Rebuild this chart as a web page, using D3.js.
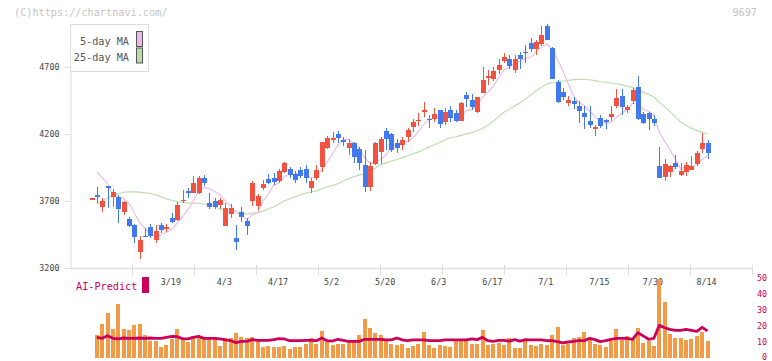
<!DOCTYPE html>
<html><head><meta charset="utf-8">
<script src="https://cdn.jsdelivr.net/npm/d3@7"></script>
<style>body{margin:0;background:#fff}svg{display:block}</style>
</head><body>
<svg id="c" width="772" height="361"></svg>
<script>
const dates = ["2/26","2/27","2/28","3/3","3/4","3/5","3/6","3/7","3/10","3/11","3/12","3/13","3/14","3/17","3/18","3/19","3/21","3/24","3/25","3/26","3/27","3/28","3/31","4/1","4/2","4/3","4/4","4/7","4/8","4/9","4/10","4/11","4/14","4/15","4/16","4/17","4/18","4/21","4/22","4/23","4/24","4/25","4/28","4/30","5/1","5/2","5/7","5/8","5/9","5/12","5/13","5/14","5/15","5/16","5/19","5/20","5/21","5/22","5/23","5/26","5/27","5/28","5/29","5/30","6/2","6/3","6/4","6/5","6/6","6/9","6/10","6/11","6/12","6/13","6/16","6/17","6/18","6/19","6/20","6/23","6/24","6/25","6/26","6/27","6/30","7/1","7/2","7/3","7/4","7/7","7/8","7/9","7/10","7/11","7/14","7/15","7/16","7/17","7/18","7/22","7/23","7/24","7/25","7/28","7/29","7/30","7/31","8/1","8/4","8/5","8/6","8/7","8/8","8/12","8/13","8/14"];

const open = [3716,3747,3657,3812,3732,3732,3620,3566,3521,3322,
3439,3508,3409,3521,3499,3571,3558,3705,3775,3762,
3757,3869,3687,3702,3670,3513,3600,3426,3620,3551,
3702,3665,3799,3864,3869,3851,3919,3937,3899,3931,
3937,3799,3869,3956,4098,4165,4200,4152,4098,4135,
4088,3969,3807,3976,4068,4222,4198,4131,4118,4175,
4250,4302,4372,4312,4312,4379,4292,4379,4354,4299,
4491,4454,4366,4508,4625,4610,4678,4747,4760,4678,
4790,4812,4877,4834,4872,5006,4840,4586,4511,4434,
4446,4409,4359,4297,4248,4322,4301,4325,4409,4484,
4379,4448,4548,4349,4354,4312,3961,3881,3919,3984,
3896,3919,3931,3976,4088,4135];
const high = [3722,3802,3720,3815,3787,3745,3700,3578,3525,3439,
3496,3526,3519,3538,3528,3608,3690,3782,3795,3887,
3887,3894,3757,3720,3720,3683,3675,3521,3657,3571,
3849,3752,3857,3899,3907,3937,3993,3956,3924,3951,
3969,3869,3969,4143,4185,4217,4222,4180,4160,4143,
4105,4081,3990,4137,4178,4247,4205,4160,4174,4248,
4310,4354,4441,4342,4392,4379,4392,4409,4379,4441,
4516,4498,4474,4702,4678,4702,4757,4802,4790,4790,
4814,4864,4915,4898,5006,5021,4848,4603,4541,4484,
4474,4446,4409,4409,4267,4342,4310,4409,4534,4534,
4416,4546,4633,4366,4366,4342,4105,4013,3969,4043,
3986,3993,4038,4075,4210,4155];
const low = [3714,3687,3620,3646,3657,3538,3596,3508,3389,3267,
3429,3422,3389,3463,3471,3538,3553,3683,3725,3757,
3750,3812,3640,3638,3643,3510,3571,3334,3545,3446,
3663,3633,3782,3827,3819,3837,3907,3869,3837,3869,
3837,3757,3857,3919,4086,4135,4135,4110,4043,3981,
3931,3769,3777,3969,3976,4081,4068,4060,4081,4143,
4217,4263,4329,4243,4292,4247,4267,4292,4292,4299,
4399,4379,4359,4504,4566,4598,4646,4728,4685,4653,
4685,4728,4812,4793,4853,4901,4610,4434,4454,4409,
4387,4284,4235,4243,4185,4243,4237,4299,4396,4342,
4359,4424,4304,4275,4230,4260,3874,3851,3881,3939,
3889,3889,3931,3963,4060,4011];
const close = [3720,3732,3700,3799,3767,3640,3695,3516,3434,3409,
3431,3439,3478,3484,3503,3543,3670,3709,3757,3832,
3874,3837,3657,3653,3707,3650,3650,3396,3583,3513,
3837,3737,3827,3837,3844,3924,3986,3894,3857,3889,
3869,3849,3931,4140,4168,4170,4168,4148,4135,4031,
3986,3807,3961,4131,4163,4163,4081,4095,4155,4230,
4292,4306,4376,4308,4349,4272,4362,4317,4299,4434,
4461,4399,4474,4603,4630,4670,4715,4777,4710,4760,
4757,4808,4834,4884,4939,4901,4610,4441,4478,4454,
4426,4374,4329,4267,4252,4262,4297,4349,4466,4399,
4404,4528,4312,4280,4312,4284,3874,3976,3961,3956,
3924,3969,3961,4056,4135,4060];

const ma5Head = [null,3916,3875,3830];
const ma25Head = [null,3675,3700,3722,3740,3756,3765,3768,3768,3766,3762,3756,3748,3732,3715,3705,3696,3690,3685,3684,3683,3678,3670,3660];

const volume = [null,14.4,21.2,28.1,18.1,33.8,18.1,17.5,20.6,21.2,14.4,
10.6,10.6,6.9,8.1,11.9,18.1,12.5,10.0,13.8,13.8,
12.5,12.5,12.5,7.5,12.5,12.5,15.6,13.1,12.5,13.1,
10.6,6.9,7.5,6.9,6.9,7.5,5.6,6.9,6.9,8.8,
12.5,8.8,16.9,10.6,8.1,8.8,8.8,10.0,10.0,14.4,
24.4,18.8,15.6,14.4,11.9,8.8,8.1,8.8,6.3,7.5,
8.8,16.3,8.1,6.3,8.1,7.5,6.9,10.6,10.6,10.6,
8.8,8.8,17.5,8.1,8.8,9.4,8.1,12.5,6.3,6.3,
10.6,8.1,7.5,8.8,8.1,14.4,19.4,8.1,8.8,12.5,
13.1,16.3,11.3,8.8,8.1,6.9,10.6,18.1,11.3,13.8,
11.9,18.8,9.4,10.6,7.5,49.4,35.0,15.0,12.5,12.5,
11.3,11.9,13.8,16.3,10.6];
const aiPredict = [null,12.9,12.3,13.9,12.3,11.9,12.5,12.3,12.3,12.5,12.3,
12.5,12.3,12.3,12.9,13.5,13.3,12.1,11.9,12.9,13.5,
12.3,12.3,12.3,11.9,11.3,10.8,9.6,10.4,10.4,11.5,
11.0,11.0,11.0,11.5,12.1,11.9,10.8,10.8,10.8,11.0,
11.0,10.8,12.5,10.8,10.6,11.7,11.0,10.4,10.4,10.4,
11.7,11.7,11.7,11.7,11.3,11.3,12.5,11.3,10.8,11.3,
11.3,11.3,10.8,10.8,10.8,11.3,11.3,11.3,11.3,11.3,
11.9,11.5,12.9,10.8,10.4,11.0,11.0,10.6,11.5,10.6,
11.5,11.3,11.3,11.3,10.8,10.8,10.2,9.4,10.0,10.4,
10.8,10.8,12.3,11.5,10.2,10.8,11.7,12.3,12.3,12.3,
11.7,15.8,13.8,11.7,12.3,20.4,18.9,17.9,17.3,17.3,
17.9,17.3,16.6,19.2,16.9];

const priceTicks = [3200,3700,4200,4700];
const dateLabels = ["3/19","4/3","4/17","5/2","5/20","6/3","6/17","7/1","7/15","7/30","8/14"];
const volTicks = [0,10,20,30,40,50];
const legendItems = [{name:"5-day MA", color:"#ecb8ec"},{name:"25-day MA", color:"#b8dcaa"}];

const UP = "#f25340", DOWN = "#4279ee", MONO = "'DejaVu Sans Mono', monospace";
const svg = d3.select("#c");
const idx = d3.range(close.length);

const x = d3.scaleLinear().domain([0, close.length - 1]).range([91.5, 707.5]);
const y = d3.scaleLinear().domain([3200, 5000]).range([268, 26.8]);
const yv = d3.scaleLinear().domain([0, 50]).range([358, 278]);

// watermark texts
svg.append("text").attr("x",14).attr("y",16).attr("font-family",MONO).attr("font-size",10.2)
  .attr("fill","#c4c4c4").text("(C)https://chartnavi.com/");
svg.append("text").attr("x",757).attr("y",16).attr("text-anchor","end").attr("font-family",MONO)
  .attr("font-size",10.2).attr("fill","#c4c4c4").text("9697");

// left axis
const ax = svg.append("g").attr("transform","translate(70.5,0)")
  .call(d3.axisLeft(y).tickValues(priceTicks).tickFormat(d3.format("d")).tickSize(6).tickSizeOuter(0).tickPadding(5));
ax.select(".domain").attr("stroke","#dddddd");
ax.selectAll(".tick line").attr("stroke","#dddddd");
ax.selectAll("text").attr("font-family",MONO).attr("font-size",8.4).attr("fill","#444");

// bottom axis line with fixed ticks
const xGrid = d3.scaleLinear().domain([0, 11]).range([70, 752]);
const bt = svg.append("g");
bt.append("line").attr("x1",xGrid(0)).attr("x2",xGrid(11)).attr("y1",268.5).attr("y2",268.5)
  .attr("stroke","#dddddd").attr("stroke-width",1.5);
bt.selectAll("line.t").data(d3.range(1,12)).join("line").attr("class","t")
  .attr("x1",d=>Math.round(xGrid(d))+0.5).attr("x2",d=>Math.round(xGrid(d))+0.5)
  .attr("y1",265).attr("y2",275).attr("stroke","#dddddd");

// date labels
svg.selectAll("text.dl").data(dateLabels).join("text").attr("class","dl")
  .attr("x",d=>x(dates.indexOf(d))-1).attr("y",285).attr("text-anchor","middle")
  .attr("font-family",MONO).attr("font-size",8.4).attr("fill","#444").text(d=>d);

// moving averages
function movingAvg(n, head){
  return close.map((c,i)=> i < head.length ? head[i] : d3.mean(close.slice(i-n+1, i+1)));
}
const ma5 = movingAvg(5, ma5Head), ma25 = movingAvg(25, ma25Head);
const lineGen = d3.line().defined(d=>d[1]!=null).x(d=>x(d[0])).y(d=>y(d[1]));
svg.append("path").attr("d", lineGen(idx.map(i=>[i,ma25[i]]))).attr("fill","none")
  .attr("stroke","#b8dcaa").attr("stroke-width",1.1);
svg.append("path").attr("d", lineGen(idx.map(i=>[i,ma5[i]]))).attr("fill","none")
  .attr("stroke","#ecb8ec").attr("stroke-width",1.1);

// candles
const cg = svg.append("g").attr("shape-rendering","crispEdges");
const candle = cg.selectAll("g").data(idx).join("g");
candle.append("line")
  .attr("x1",i=>Math.round(x(i))+0.5).attr("x2",i=>Math.round(x(i))+0.5)
  .attr("y1",i=>y(high[i])).attr("y2",i=>y(low[i]))
  .attr("stroke",i=>close[i]>=open[i]?UP:DOWN).attr("stroke-width",1);
candle.append("rect")
  .attr("x",i=>Math.round(x(i))-2).attr("width",5)
  .attr("y",i=>Math.min(y(open[i]),y(close[i])))
  .attr("height",i=>Math.max(1.5, Math.abs(y(open[i])-y(close[i]))))
  .attr("fill",i=>close[i]>=open[i]?UP:DOWN);

// legend
const lg = svg.append("g");
lg.append("rect").attr("x",70.5).attr("y",24.5).attr("width",78).attr("height",47)
  .attr("fill","#fff").attr("stroke","#dddddd");
lg.selectAll("text").data(legendItems).join("text")
  .attr("x",129).attr("y",(d,i)=>45+i*16).attr("text-anchor","end")
  .attr("font-family",MONO).attr("font-size",10.2).attr("fill","#555").text(d=>d.name);
lg.selectAll("rect.sw").data(legendItems).join("rect").attr("class","sw")
  .attr("x",136.5).attr("y",(d,i)=>31.5+i*16.5).attr("width",6).attr("height",15)
  .attr("fill",d=>d.color).attr("stroke","#555");

// volume bars
svg.append("g").attr("shape-rendering","crispEdges").selectAll("rect")
  .data(idx.filter(i=>volume[i]!=null)).join("rect")
  .attr("x",i=>Math.round(x(i))-2).attr("width",4)
  .attr("y",i=>yv(volume[i])).attr("height",i=>yv(0)-yv(volume[i]))
  .attr("fill","#f29a45");

// AI-Predict line
svg.append("path").attr("d", d3.line().defined(d=>d[1]!=null).x(d=>x(d[0])).y(d=>yv(d[1]))(idx.map(i=>[i,aiPredict[i]])))
  .attr("fill","none").attr("stroke","#cc0058").attr("stroke-width",2.8).attr("stroke-linejoin","round");

// right axis
svg.selectAll("text.vt").data(volTicks).join("text").attr("class","vt")
  .attr("x",767).attr("y",d=>Math.min(yv(d)+3, 359.5)).attr("text-anchor","end")
  .attr("font-family",MONO).attr("font-size",8.4).attr("fill","#cc0058").text(d=>d);

// AI-Predict legend
svg.append("text").attr("x",76).attr("y",290).attr("font-family",MONO).attr("font-size",10.2)
  .attr("fill","#cc0058").text("AI-Predict");
svg.append("rect").attr("x",142).attr("y",277).attr("width",7).attr("height",16).attr("fill","#cc0058");
</script>
</body></html>
